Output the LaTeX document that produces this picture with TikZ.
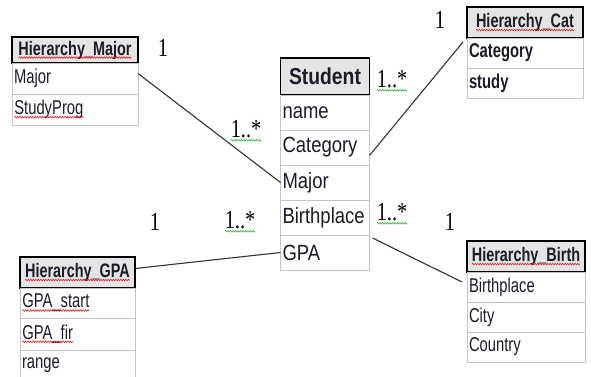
\documentclass[tikz,border=0pt]{standalone}
\usepackage{fontspec}
\setmainfont{Liberation Sans}
\newfontfamily\smallfont{Liberation Sans}[FakeStretch=0.74]
\newfontfamily\bigfont{Liberation Sans}[FakeStretch=0.84]
\newfontfamily\labelfont{Liberation Serif}[FakeStretch=0.78]
\usetikzlibrary{positioning,decorations.pathmorphing}

\definecolor{headgray}{HTML}{E4E4E4}
\definecolor{rowgray}{HTML}{C4C4C4}
\definecolor{inkdark}{HTML}{1C1C28}
\definecolor{wavered}{HTML}{E02020}
\definecolor{wavegreen}{HTML}{40B040}

% wavy underlines (spell checker marks)
\newcommand\wavy[2]{\tikz[baseline=(wv.base)]{\node[inner sep=0pt,outer sep=0pt,minimum width=0pt,minimum height=0pt,text width={},anchor=base west] (wv) at (0,0) {#2};
  \draw[#1,line width=0.6pt,decorate,decoration={snake,amplitude=0.8pt,segment length=2.5pt}] ([yshift=-2.5pt]wv.base west) -- ([yshift=-2.5pt]wv.base east);}}

\tikzstyle{head}=[draw=black,line width=1.3pt,fill=headgray,outer sep=0pt,inner xsep=1pt,inner ysep=0pt,text=inkdark,font=\smallfont\bfseries\fontsize{19.5}{21}\selectfont]
\tikzstyle{field}=[draw=rowgray,line width=0.9pt,outer sep=0pt,inner xsep=2pt,inner ysep=0pt,align=left,text=inkdark,font=\smallfont\fontsize{20}{22}\selectfont]
\tikzstyle{bigfield}=[field,font=\bigfont\fontsize{22}{24}\selectfont]
\tikzstyle{card}=[inner sep=0pt,text=black,font=\labelfont\fontsize{26}{28}\selectfont]
\tikzstyle{link}=[draw=black!80,line width=1.1pt]

\begin{document}
\begin{tikzpicture}[x=1pt,y=-1pt]
  \clip (0,0) rectangle (591,377);
  \fill[white] (0,0) rectangle (591,377);

  % Hierarchy_Major
  \node[head,minimum width=126pt,minimum height=26pt] (hm) at (75,50) {\wavy{wavered}{Hierarchy\_Major}};
  \node[field,text width=122pt,minimum height=31pt,below=0pt of hm] (hm1) {Major};
  \node[field,text width=122pt,minimum height=31pt,below=0pt of hm1] (hm2) {\wavy{wavered}{StudyProg}};

  % Student
  \node[head,minimum width=89pt,minimum height=37pt,font=\bigfont\bfseries\fontsize{23}{25}\selectfont] (st) at (325,76.5) {Student};
  \node[bigfield,text width=85pt,minimum height=35pt,below=0pt of st] (st1) {name};
  \node[bigfield,text width=85pt,minimum height=35pt,below=0pt of st1] (st2) {Category};
  \node[bigfield,text width=85pt,minimum height=35pt,below=0pt of st2] (st3) {Major};
  \node[bigfield,text width=85pt,minimum height=35pt,below=0pt of st3] (st4) {Birthplace};
  \node[bigfield,text width=85pt,minimum height=35pt,below=0pt of st4] (st5) {GPA};

  % Hierarchy_Cat
  \node[head,minimum width=116pt,minimum height=31pt] (hc) at (525,22.5) {\wavy{wavered}{Hierarchy\_Cat}};
  \node[field,text width=112pt,minimum height=30pt,font=\smallfont\bfseries\fontsize{20}{22}\selectfont,below=0pt of hc] (hc1) {Category};
  \node[field,text width=112pt,minimum height=30pt,font=\smallfont\bfseries\fontsize{20}{22}\selectfont,below=0pt of hc1] (hc2) {study};

  % Hierarchy_GPA
  \node[head,minimum width=115pt,minimum height=31pt] (hg) at (77.5,272.5) {\wavy{wavered}{Hierarchy\_GPA}};
  \node[field,text width=111pt,minimum height=30pt,below=0pt of hg] (hg1) {\wavy{wavered}{GPA\_start}};
  \node[field,text width=111pt,minimum height=32pt,below=0pt of hg1] (hg2) {\wavy{wavered}{GPA\_fir}};
  \node[field,text width=111pt,minimum height=30pt,below=0pt of hg2] (hg3) {range};

  % Hierarchy_Birth
  \node[head,minimum width=118pt,minimum height=31pt] (hb) at (526,256.5) {\wavy{wavered}{Hierarchy\_Birth}};
  \node[field,text width=114pt,minimum height=30pt,below=0pt of hb] (hb1) {Birthplace};
  \node[field,text width=114pt,minimum height=30pt,below=0pt of hb1] (hb2) {City};
  \node[field,text width=114pt,minimum height=30pt,below=0pt of hb2] (hb3) {Country};

  % multiplicities
  \node[card] (oneMaj) at (163,48) {1};
  \node[card] (manyMaj) at (246,131) {\wavy{wavegreen}{1..*}};
  \node[card] (oneCat) at (440,20) {1};
  \node[card] (manyCat) at (392,81) {\wavy{wavegreen}{1..*}};
  \node[card] (oneGPA) at (155,222) {1};
  \node[card] (manyGPA) at (240,222) {\wavy{wavegreen}{1..*}};
  \node[card] (manyBirth) at (392,214) {\wavy{wavegreen}{1..*}};
  \node[card] (oneBirth) at (450,222) {1};

  % associations
  \draw[link] ([yshift=5pt]hm1.east) -- (st3.west);
  \draw[link] ([yshift=-8pt]st2.east) -- ([xshift=-4pt,yshift=-4pt]hc1.north west);
  \draw[link] ([yshift=4pt]hg.east) -- (st5.west);
  \draw[link] ([xshift=3pt,yshift=-3pt]st5.north east) -- ([xshift=-5pt,yshift=5pt]hb1.west);
\end{tikzpicture}
\end{document}
